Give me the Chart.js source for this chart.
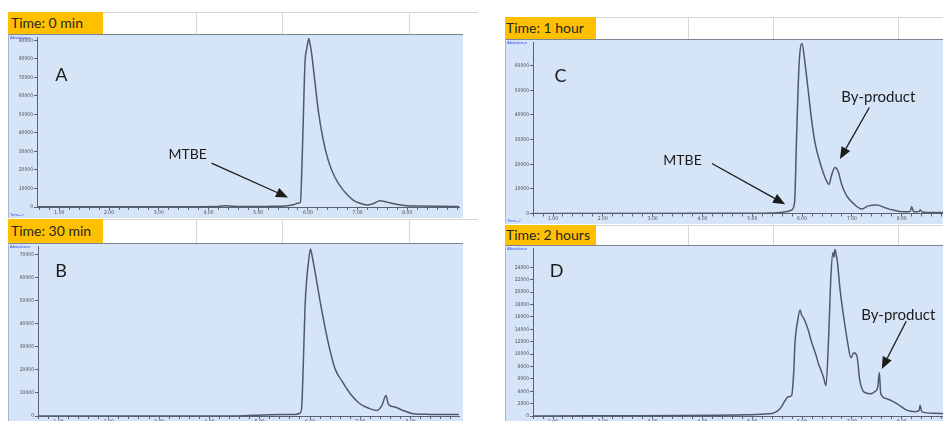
<!DOCTYPE html>
<html><head><meta charset="utf-8">
<script src="https://cdn.jsdelivr.net/npm/chart.js@4.4.0/dist/chart.umd.min.js"></script>
<style>
html,body{margin:0;padding:0;background:#fff;width:943px;height:421px;overflow:hidden;position:relative;}
.hdr{position:absolute;background:#fff;border-top:1px solid #d6d6d6;box-sizing:border-box;}
.vl{position:absolute;top:0;bottom:0;width:1px;background:#d6d6d6;}
.tag{position:absolute;background:#ffc000;color:#262626;font:14px Lato,sans-serif;white-space:nowrap;box-sizing:border-box;}
.panel{position:absolute;background:#d6e4f8;}
.panel canvas{position:absolute;left:0;top:0;}
</style>
</head><body>
<script>
// ---------- data ----------
const titles = ['Time: 0 min', 'Time: 30 min', 'Time: 1 hour', 'Time: 2 hours'];
const panelLetters = ['A', 'B', 'C', 'D'];

const xTickValues = [1, 2, 3, 4, 5, 6, 7, 8];
const xTickLabels = ['1.00', '2.00', '3.00', '4.00', '5.00', '6.00', '7.00', '8.00'];

const yTicksA = [0, 10000, 20000, 30000, 40000, 50000, 60000, 70000, 80000, 90000];
const yTicksB = [0, 10000, 20000, 30000, 40000, 50000, 60000, 70000];
const yTicksC = [0, 10000, 20000, 30000, 40000, 50000, 60000];
const yTicksD = [0, 2000, 4000, 6000, 8000, 10000, 12000, 14000, 16000, 18000, 20000, 22000, 24000];

// Panel A: 0 min
const timesA = [0.55, 2.0, 3.5, 4.2, 4.35, 4.5, 4.7, 5.0, 5.3, 5.55, 5.7, 5.8, 5.85, 5.88, 5.91, 5.94, 5.98, 6.02, 6.04, 6.07, 6.14, 6.21, 6.31, 6.41, 6.54, 6.71, 6.91, 7.05, 7.18, 7.31, 7.45, 7.58, 7.78, 7.99, 8.3, 8.7, 9.04];
const abundA = [200, 200, 200, 300, 700, 400, 300, 300, 400, 600, 1200, 2000, 2500, 22000, 50000, 77000, 86000, 91000, 88500, 84000, 68000, 52000, 36000, 25200, 16200, 9100, 3750, 2000, 1100, 1800, 3400, 2700, 1500, 700, 500, 400, 300];

// Panel B: 30 min
const timesB = [0.6, 4.5, 4.9, 5.2, 5.5, 5.7, 5.8, 5.835, 5.87, 5.90, 5.93, 5.97, 6.01, 6.04, 6.10, 6.20, 6.30, 6.40, 6.50, 6.63, 6.80, 6.99, 7.19, 7.33, 7.43, 7.51, 7.56, 7.69, 7.85, 8.05, 8.4, 8.96];
const abundB = [0, 0, 300, 500, 600, 700, 1200, 3900, 25000, 46800, 58000, 66800, 72300, 69500, 62500, 49700, 38200, 28200, 20300, 15300, 9600, 5300, 3200, 2400, 4600, 8900, 5000, 3900, 2400, 1000, 700, 600];

// Panel C: 1 hour
const timesC = [0.6, 5.0, 5.5, 5.7, 5.79, 5.85, 5.89, 5.94, 6.00, 6.06, 6.13, 6.19, 6.26, 6.36, 6.46, 6.54, 6.59, 6.66, 6.73, 6.79, 6.89, 7.03, 7.20, 7.33, 7.50, 7.67, 7.83, 8.03, 8.17, 8.20, 8.24, 8.35, 8.37, 8.42, 8.7, 9.1];
const abundC = [0, 100, 300, 800, 1400, 4700, 31400, 60700, 69000, 60700, 48700, 38100, 28700, 20700, 14700, 11800, 15400, 18700, 16700, 12100, 7400, 4100, 1800, 3100, 3400, 2300, 1400, 700, 800, 2700, 700, 800, 1400, 500, 400, 300];

// Panel D: 2 hours
const timesD = [0.6, 4.9, 5.2, 5.42, 5.56, 5.66, 5.72, 5.79, 5.83, 5.86, 5.91, 5.96, 5.99, 6.03, 6.08, 6.13, 6.18, 6.23, 6.28, 6.33, 6.38, 6.43, 6.48, 6.53, 6.58, 6.62, 6.64, 6.66, 6.69, 6.71, 6.76, 6.83, 6.91, 6.98, 7.04, 7.10, 7.16, 7.24, 7.37, 7.47, 7.52, 7.55, 7.58, 7.70, 7.90, 8.10, 8.27, 8.35, 8.37, 8.40, 8.64, 9.1];
const abundD = [0, 200, 300, 430, 1200, 2500, 3100, 3300, 6800, 12100, 15300, 17100, 16300, 15800, 14900, 13700, 12200, 11000, 9800, 8400, 7400, 6250, 4900, 12100, 22700, 26400, 25600, 26900, 25800, 24800, 20600, 16300, 12100, 9400, 10200, 9700, 5700, 3900, 3600, 4000, 4700, 7000, 3600, 2800, 2000, 950, 700, 900, 1750, 700, 430, 300];

// annotations in data coordinates (time, abundance)
const notesA = { letter: [1.04, 71250], texts: [['MTBE', 3.58, 28200]], arrows: [[4.06, 23700, 5.60, 5200]] };
const notesB = { letter: [1.05, 62500], texts: [], arrows: [] };
const notesC = { letter: [1.15, 55700], texts: [['MTBE', 3.60, 21600], ['By-product', 7.53, 47200]], arrows: [[4.19, 20300, 5.66, 3800], [7.35, 43000, 6.76, 22100]] };
const notesD = { letter: [1.07, 23400], texts: [['By-product', 7.93, 16300]], arrows: [[8.09, 15300, 7.60, 7600]] };

// ---------- layout (positions / sizes only) ----------
const layout = [
  { left: 8, top: 34, w: 455, h: 184, yW: 29, padT: 2, padR: 4, xH: 11, xMin: 0.55, xMax: 9.04, yMax: 91600, hdrTop: 12, hdrW: 470, tagW: 95, tagPad: 3, lines: [196, 282, 409], timeLbl: true },
  { left: 8, top: 243, w: 455, h: 178, yW: 30, padT: 2, padR: 4, xH: 5, xMin: 0.592, xMax: 8.962, yMax: 73400, hdrTop: 219, hdrW: 470, tagW: 95, tagPad: 3, lines: [196, 282, 409], timeLbl: false },
  { left: 505, top: 39, w: 455, h: 185, yW: 28, padT: 1, padR: 4, xH: 10.5, xMin: 0.598, xMax: 9.09, yMax: 69400, hdrTop: 17, hdrW: 440, tagW: 91, tagPad: 1, lines: [688, 773, 898], timeLbl: true },
  { left: 505, top: 245, w: 455, h: 176, yW: 28, padT: 1, padR: 4, xH: 5, xMin: 0.598, xMax: 9.09, yMax: 27030, hdrTop: 225, hdrW: 440, tagW: 91, tagPad: 1, lines: [688, 773, 898], timeLbl: false }
];

const series = [[timesA, abundA], [timesB, abundB], [timesC, abundC], [timesD, abundD]];
const yTicksAll = [yTicksA, yTicksB, yTicksC, yTicksD];
const notesAll = [notesA, notesB, notesC, notesD];

const tickFont = { family: "'Liberation Sans Narrow','DejaVu Sans Condensed',sans-serif", size: 5, lineHeight: 1 };

const decor = {
  id: 'decor',
  afterDatasetsDraw(chart, args, o) {
    const ctx = chart.ctx, xs = chart.scales.x, ys = chart.scales.y;
    const P = (t, v) => [xs.getPixelForValue(t), ys.getPixelForValue(v)];
    ctx.save();
    ctx.fillStyle = '#1b1b1b';
    ctx.strokeStyle = '#1b1b1b';
    ctx.textAlign = 'center';
    ctx.textBaseline = 'middle';
    const n = o.notes;
    let p = P(n.letter[0], n.letter[1]);
    ctx.font = '18px Lato, sans-serif';
    ctx.fillText(o.letter, p[0], p[1]);
    n.texts.forEach(tx => {
      const q = P(tx[1], tx[2]);
      ctx.font = (tx[0] === 'MTBE' ? '14px' : '15px') + ' Lato, sans-serif';
      ctx.fillText(tx[0], q[0], q[1]);
    });
    n.arrows.forEach(a => {
      const s = P(a[0], a[1]), e = P(a[2], a[3]);
      const ang = Math.atan2(e[1] - s[1], e[0] - s[0]);
      const L = 12, W = 5;
      const bx = e[0] - L * Math.cos(ang), by = e[1] - L * Math.sin(ang);
      ctx.lineWidth = 1.3;
      ctx.beginPath(); ctx.moveTo(s[0], s[1]); ctx.lineTo(bx, by); ctx.stroke();
      ctx.beginPath();
      ctx.moveTo(e[0], e[1]);
      ctx.lineTo(bx + W * Math.sin(ang), by - W * Math.cos(ang));
      ctx.lineTo(bx - W * Math.sin(ang), by + W * Math.cos(ang));
      ctx.closePath(); ctx.fill();
    });
    ctx.restore();
  },
  afterDraw(chart, args, o) {
    const ctx = chart.ctx, w = chart.width, h = chart.height;
    ctx.save();
    ctx.strokeStyle = '#7b8594'; ctx.lineWidth = 1;
    ctx.beginPath(); ctx.moveTo(0, 0.5); ctx.lineTo(w, 0.5); ctx.stroke();
    ctx.strokeStyle = '#a5b5cc';
    ctx.beginPath(); ctx.moveTo(0.5, 0); ctx.lineTo(0.5, h); ctx.stroke();
    ctx.fillStyle = '#3a4cf0';
    ctx.font = "4px 'Liberation Sans', sans-serif";
    ctx.textAlign = 'left'; ctx.textBaseline = 'top';
    ctx.fillText('Abundance', 2, 2);
    if (o.timeLbl) { ctx.textBaseline = 'bottom'; ctx.fillText('Time-->', 2, h - 1); }
    ctx.restore();
  }
};

layout.forEach((L, i) => {
  // header strip
  const hdr = document.createElement('div');
  hdr.className = 'hdr';
  Object.assign(hdr.style, { left: L.left + 'px', top: L.hdrTop + 'px', width: L.hdrW + 'px', height: (L.top - L.hdrTop) + 'px' });
  document.body.appendChild(hdr);
  L.lines.forEach(x => { const v = document.createElement('div'); v.className = 'vl'; v.style.left = (x - L.left) + 'px'; hdr.appendChild(v); });
  const tag = document.createElement('div');
  tag.className = 'tag';
  tag.textContent = titles[i];
  Object.assign(tag.style, { left: L.left + 'px', top: L.hdrTop + 'px', width: L.tagW + 'px', height: (L.top - L.hdrTop) + 'px', lineHeight: (L.top - L.hdrTop) + 'px', paddingLeft: L.tagPad + 'px' });
  document.body.appendChild(tag);

  // plot panel
  const pan = document.createElement('div');
  pan.className = 'panel';
  Object.assign(pan.style, { left: L.left + 'px', top: L.top + 'px', width: L.w + 'px', height: L.h + 'px' });
  const cv = document.createElement('canvas');
  cv.width = L.w; cv.height = L.h;
  cv.style.width = L.w + 'px'; cv.style.height = L.h + 'px';
  pan.appendChild(cv);
  document.body.appendChild(pan);

  const [tt, vv] = series[i];
  const pts = tt.map((t, k) => ({ x: t, y: vv[k] }));
  const yT = yTicksAll[i];

  new Chart(cv, {
    type: 'line',
    data: { datasets: [{ data: pts, borderColor: '#4f5a69', borderWidth: 1.5, pointRadius: 0, cubicInterpolationMode: 'monotone', fill: false }] },
    options: {
      responsive: false, animation: false, devicePixelRatio: 1, events: [],
      layout: { padding: { left: 0, top: L.padT, right: L.padR, bottom: 0 } },
      plugins: {
        legend: { display: false }, tooltip: { enabled: false },
        decor: { notes: notesAll[i], letter: panelLetters[i], timeLbl: L.timeLbl }
      },
      scales: {
        x: {
          type: 'linear', min: L.xMin, max: L.xMax,
          afterBuildTicks: s => {
            const arr = [];
            for (let k = 3; k <= 45; k++) { const v = k / 5; if (v >= L.xMin - 1e-9 && v <= L.xMax + 1e-9) arr.push({ value: v }); }
            s.ticks = arr;
          },
          afterFit: s => { s.height = L.xH; },
          ticks: {
            autoSkip: false, maxRotation: 0, minRotation: 0, padding: 0,
            font: tickFont, color: '#4a4a4a',
            callback: v => { const j = xTickValues.findIndex(m => Math.abs(m - v) < 1e-6); return j >= 0 ? xTickLabels[j] : ''; }
          },
          grid: { drawOnChartArea: false, drawTicks: true, tickLength: 3, color: '#5a6270', lineWidth: 1 },
          border: { display: true, color: '#5a6270', width: 1 }
        },
        y: {
          type: 'linear', min: 0, max: L.yMax,
          afterBuildTicks: s => { s.ticks = yT.map(v => ({ value: v })); },
          afterFit: s => { s.width = L.yW; },
          ticks: { padding: 1, font: tickFont, color: '#4a4a4a', callback: v => String(v) },
          grid: { drawOnChartArea: false, drawTicks: true, tickLength: 3, color: '#5a6270', lineWidth: 1 },
          border: { display: true, color: '#5a6270', width: 1 }
        }
      }
    },
    plugins: [decor]
  });
});
</script>
</body></html>
